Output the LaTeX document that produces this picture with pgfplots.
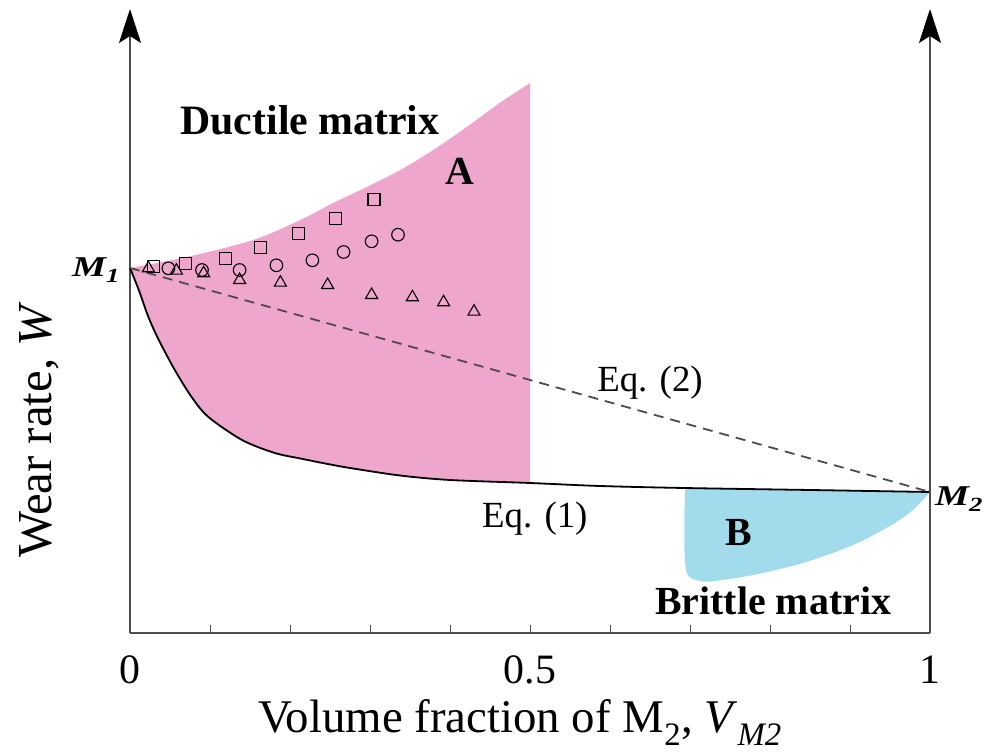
\documentclass[border=0pt]{standalone}
\usepackage{fontspec}
\setmainfont{Liberation Serif}
\usepackage{pgfplots}
\pgfplotsset{compat=1.18}
\usepgfplotslibrary{fillbetween}
\usetikzlibrary{arrows.meta}
\definecolor{pinkA}{HTML}{EEA6CD}
\definecolor{blueB}{HTML}{A2DCEC}
\definecolor{axgray}{HTML}{4D4D4D}
\definecolor{dashc}{HTML}{504A4D}
\begin{document}
\begin{tikzpicture}
\begin{axis}[
  at={(0,0)}, anchor=south west,
  scale only axis, width=800bp, height=624bp,
  xmin=0, xmax=1, ymin=0, ymax=6.24,
  axis x line=bottom, axis y line=left,
  x axis line style={-, draw=axgray, line width=1.6bp},
  y axis line style={-{Stealth[length=34bp,width=22bp,inset=7bp,color=black]}, draw=axgray, line width=1.6bp},
  xtick={0,0.1,0.2,0.3,0.4,0.5,0.6,0.7,0.8,0.9,1},
  xticklabels={0,,,,,0.5,,,,,1},
  ytick=\empty,
  tick align=inside, major tick length=8bp,
  tick style={draw=axgray, line width=1bp},
  xticklabel style={font=\fontsize{42}{46}\selectfont, anchor=base, yshift=-50bp},
  clip=false,
]
% boundary of region A: lower part of Eq. (1)
\addplot[name path=eqA, smooth, draw=none] coordinates {
 (0,3.65) (0.011,3.43) (0.023,3.16) (0.036,2.93) (0.056,2.63) (0.077,2.36)
 (0.098,2.16) (0.14,1.93) (0.181,1.80) (0.213,1.745) (0.244,1.695) (0.275,1.65)
 (0.3375,1.575) (0.4,1.53) (0.5,1.50)};
% upper boundary of region A
\addplot[name path=upA, smooth, draw=none] coordinates {
 (0,3.65) (0.071,3.76) (0.154,3.93) (0.213,4.13) (0.254,4.30) (0.296,4.46)
 (0.338,4.63) (0.379,4.83) (0.421,5.06) (0.462,5.30) (0.5,5.50)};
% upper boundary of region B (Eq. (1))
\addplot[name path=eqB, draw=none] coordinates {
 (0.694,1.45) (0.85,1.43) (1,1.41)};
% lower boundary of region B
\addplot[name path=lowB, smooth, draw=none] coordinates {
 (0.694,1.45) (0.693,1.20) (0.693,0.85) (0.695,0.63) (0.70,0.555) (0.71,0.525)
 (0.725,0.515) (0.779,0.58) (0.841,0.70) (0.904,0.88) (0.954,1.09) (0.98,1.24) (1,1.41)};
\addplot[fill=pinkA, draw=none] fill between[of=upA and eqA];
\addplot[fill=blueB, draw=none] fill between[of=eqB and lowB];
% Eq. (1)
\addplot[smooth, black, line width=1.8bp] coordinates {
 (0,3.65) (0.011,3.43) (0.023,3.16) (0.036,2.93) (0.056,2.63) (0.077,2.36)
 (0.098,2.16) (0.14,1.93) (0.181,1.80) (0.213,1.745) (0.244,1.695) (0.275,1.65)
 (0.3375,1.575) (0.4,1.53) (0.5,1.50) (0.5875,1.47) (0.6925,1.45) (0.85,1.43) (1,1.41)};
% Eq. (2)
\addplot[draw=dashc, line width=1.8bp, dash pattern=on 10bp off 7bp] coordinates {(0,3.65) (1,1.41)};
% data points
\addplot[only marks, mark=square, mark size=6bp, mark options={line width=1.1bp, draw=black}] coordinates {
 (0.029,3.663) (0.069,3.697) (0.119,3.743) (0.163,3.857) (0.211,3.993) (0.257,4.147) (0.305,4.337)};
\addplot[only marks, mark=o, mark size=6.3bp, mark options={line width=1.1bp, draw=black}] coordinates {
 (0.048,3.647) (0.090,3.63) (0.137,3.63) (0.183,3.677) (0.228,3.727) (0.267,3.81) (0.302,3.917) (0.335,3.983)};
\addplot[only marks, mark=triangle, mark size=7bp, mark options={line width=1.1bp, draw=black}] coordinates {
 (0.023,3.647) (0.058,3.623) (0.092,3.597) (0.137,3.53) (0.188,3.503) (0.247,3.48) (0.302,3.38) (0.353,3.357) (0.392,3.307) (0.430,3.213)};
% right axis
\draw[draw=axgray, line width=1.6bp, -{Stealth[length=34bp,width=22bp,inset=7bp,color=black]}] (axis cs:1,0) -- (axis cs:1,6.24);
% texts
\node[anchor=base, font=\bfseries\fontsize{42}{46}\selectfont] at (axis cs:0.225,4.98) {Ductile matrix};
\node[anchor=base, font=\bfseries\fontsize{40}{44}\selectfont] at (axis cs:0.4125,4.48) {A};
\node[anchor=base, font=\bfseries\fontsize{40}{44}\selectfont] at (axis cs:0.7606,0.87) {B};
\node[anchor=base, font=\bfseries\fontsize{40}{44}\selectfont] at (axis cs:0.804,0.19) {Brittle matrix};
\node[anchor=base, font=\fontsize{37}{41}\selectfont] at (axis cs:0.65,2.41) {Eq. (2)};
\node[anchor=base, font=\fontsize{37}{41}\selectfont] at (axis cs:0.506,1.05) {Eq. (1)};
\node[anchor=base east, inner sep=0pt, font=\bfseries\itshape\fontsize{32}{36}\selectfont] at (axis cs:-0.012,3.56) {\scalebox{1.2}[0.9]{M\textsubscript{1}}};
\node[anchor=base west, inner sep=0pt, font=\bfseries\itshape\fontsize{32}{36}\selectfont] at (axis cs:1.006,1.27) {\scalebox{1.2}[0.9]{M\textsubscript{2}}};
\node[anchor=base, font=\fontsize{47}{52}\selectfont] at (axis cs:0.4875,-0.99) {Volume fraction of M\textsubscript{2}, \textit{V}\textsubscript{\textit{M2}}};
\node[anchor=base, rotate=90, font=\fontsize{49}{54}\selectfont] at (axis cs:-0.0975,2.03) {Wear rate, \textit{W}};
\end{axis}
\path (-130bp,-120bp) rectangle (857bp,633bp);
\end{tikzpicture}
\end{document}
